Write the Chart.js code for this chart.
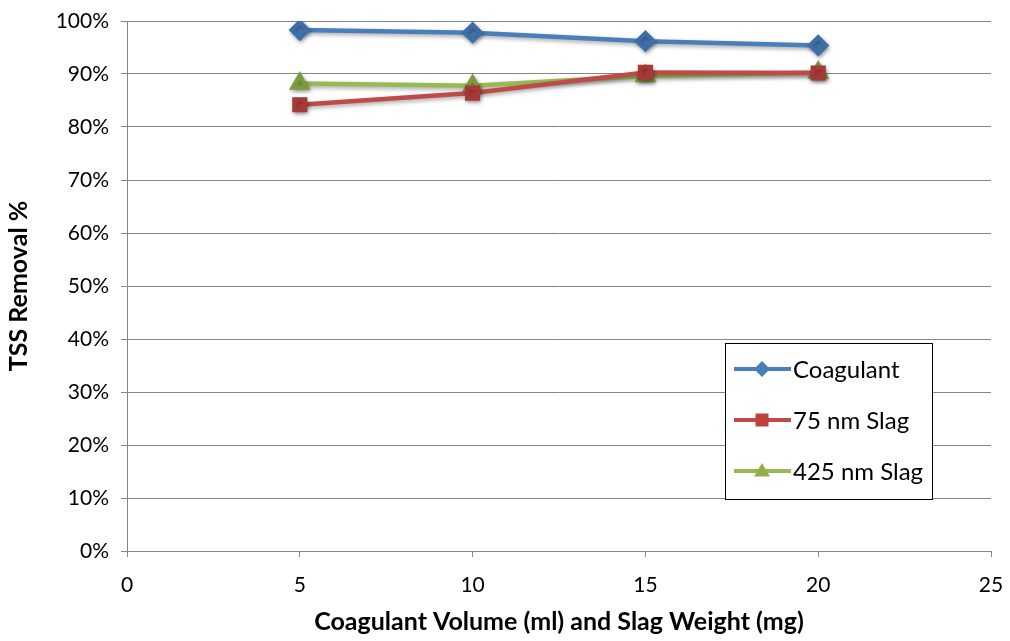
<!DOCTYPE html>
<html>
<head>
<meta charset="utf-8">
<script src="https://cdn.jsdelivr.net/npm/chart.js@4"></script>
<style>
  html, body { margin: 0; padding: 0; background: #fff; }
  #wrap { width: 1010px; height: 641px; }
</style>
</head>
<body>
<div id="wrap"><canvas id="tss"></canvas></div>
<script>
const doses = [5, 10, 15, 20];
const coagulant = [98.3, 97.8, 96.2, 95.4];
const slag75 = [84.2, 86.4, 90.3, 90.2];
const slag425 = [88.2, 87.8, 89.6, 90.3];
const seriesNames = ['Coagulant', '75 nm Slag', '425 nm Slag'];

const FONT = 'Lato, "Open Sans", "Liberation Sans", sans-serif';

function pts(vals) {
  return doses.map((d, i) => ({x: d, y: vals[i]}));
}

// legend box drawn inside the plot, lower right
const boxLegend = {
  id: 'boxLegend',
  afterDraw(chart) {
    const ctx = chart.ctx;
    const a = chart.chartArea;
    const x0 = a.right - 266, y0 = a.top + 322, w = 207, h = 156;
    ctx.save();
    ctx.fillStyle = '#fff';
    ctx.fillRect(x0, y0, w, h);
    ctx.strokeStyle = '#000';
    ctx.lineWidth = 1;
    ctx.strokeRect(x0 + 0.5, y0 + 0.5, w, h);
    chart.data.datasets.forEach((ds, i) => {
      const cy = y0 + 26 + i * 51;
      const cx = x0 + 37;
      ctx.strokeStyle = ds.borderColor;
      ctx.lineWidth = 4;
      ctx.beginPath();
      ctx.moveTo(x0 + 9, cy);
      ctx.lineTo(x0 + 66, cy);
      ctx.stroke();
      ctx.fillStyle = ds.pointBackgroundColor;
      if (ds.pointStyle === 'rectRot') {
        const r = 8;
        ctx.beginPath();
        ctx.moveTo(cx, cy - r); ctx.lineTo(cx + r, cy);
        ctx.lineTo(cx, cy + r); ctx.lineTo(cx - r, cy);
        ctx.closePath(); ctx.fill();
      } else if (ds.pointStyle === 'rect') {
        const s = 6.5;
        ctx.fillRect(cx - s, cy - s, 2 * s, 2 * s);
      } else {
        const r = 8;
        ctx.beginPath();
        ctx.moveTo(cx, cy - r); ctx.lineTo(cx + r, cy + r * 0.7);
        ctx.lineTo(cx - r, cy + r * 0.7);
        ctx.closePath(); ctx.fill();
      }
      ctx.fillStyle = '#000';
      ctx.font = '24px ' + FONT;
      ctx.textBaseline = 'middle';
      ctx.fillText(ds.label, x0 + 68, cy + 1);
    });
    ctx.restore();
  }
};

// soft drop shadow under the marks
const markShadow = {
  id: 'markShadow',
  beforeDatasetsDraw(chart) {
    const ctx = chart.ctx;
    ctx.save();
    ctx.shadowColor = 'rgba(0,0,0,0.35)';
    ctx.shadowBlur = 4;
    ctx.shadowOffsetX = 1;
    ctx.shadowOffsetY = 2;
  },
  afterDatasetsDraw(chart) {
    chart.ctx.restore();
  }
};

new Chart(document.getElementById('tss'), {
  type: 'line',
  data: {
    datasets: [
      {
        label: seriesNames[0], data: pts(coagulant),
        borderColor: '#4a7ebb', backgroundColor: '#4a7ebb', pointBackgroundColor: '#4a7ebb',
        pointBorderColor: '#3d6ea8', pointStyle: 'rectRot', pointRadius: 8, borderWidth: 4.5
      },
      {
        label: seriesNames[1], data: pts(slag75),
        borderColor: '#be4b48', backgroundColor: '#be4b48', pointBackgroundColor: '#c0403d',
        pointBorderColor: '#a33a37', pointStyle: 'rect', pointRadius: 7.5, borderWidth: 4.5
      },
      {
        label: seriesNames[2], data: pts(slag425),
        borderColor: '#98b954', backgroundColor: '#98b954', pointBackgroundColor: '#8fb04a',
        pointBorderColor: '#7c9a3e', pointStyle: 'triangle', pointRadius: 8, borderWidth: 4.5
      }
    ]
  },
  options: {
    responsive: true,
    maintainAspectRatio: false,
    animation: false,
    layout: { padding: { top: 21, right: 19, left: 0, bottom: 0 } },
    plugins: { legend: { display: false }, tooltip: { enabled: false } },
    scales: {
      x: {
        type: 'linear', min: 0, max: 25,
        ticks: { stepSize: 5, color: '#000', font: { family: FONT, size: 21 }, padding: 16 },
        grid: { drawOnChartArea: false, drawTicks: true, tickLength: 6, color: '#868686' },
        border: { color: '#868686', width: 1 },
        title: { display: true, text: 'Coagulant Volume (ml) and Slag Weight (mg)', color: '#000',
                 font: { family: FONT, size: 25, weight: 'bold' }, padding: { top: 18 } },
        afterFit(scale) {
          scale.height = 90;
          scale.paddingLeft = 0;
          scale.paddingRight = 0;
        }
      },
      y: {
        min: 0, max: 100,
        ticks: { stepSize: 10, color: '#000', font: { family: FONT, size: 21 }, padding: 12,
                 callback: v => v + '%' },
        grid: { color: '#868686', lineWidth: 1, tickLength: 6 },
        border: { color: '#868686', width: 1 },
        title: { display: true, text: 'TSS Removal %', color: '#000',
                 font: { family: FONT, size: 25, weight: 'bold' }, padding: { top: 4, bottom: 4 } },
        afterFit(scale) {
          scale.width = 127;
          scale.paddingTop = 0;
          scale.paddingBottom = 0;
        }
      }
    }
  },
  plugins: [markShadow, boxLegend]
});
</script>
</body>
</html>
